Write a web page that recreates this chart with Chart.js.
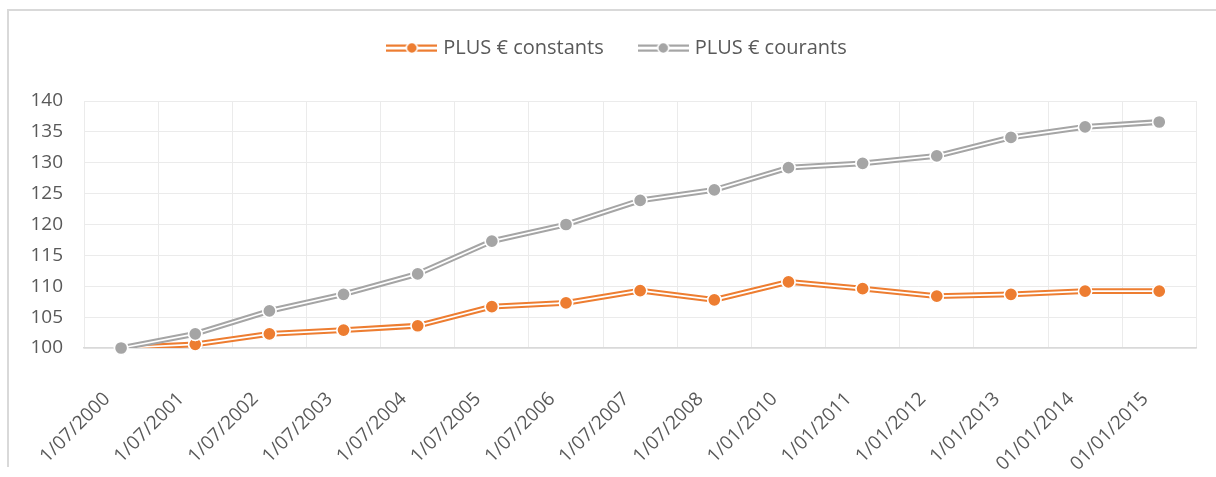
<!DOCTYPE html>
<html>
<head>
<meta charset="utf-8">
<script src="https://cdn.jsdelivr.net/npm/chart.js@4.4.1/dist/chart.umd.min.js"></script>
<style>
  html, body { margin: 0; padding: 0; background: #ffffff; }
  #wrap { position: relative; width: 1216px; height: 477px; overflow: hidden; }
  #frame { position: absolute; left: 7px; top: 9px; width: 1230px; height: 458px;
           border-top: 2px solid #d9d9d9; border-left: 2px solid #d9d9d9; box-sizing: border-box; }
  #c { position: absolute; left: 0; top: 0; }
</style>
</head>
<body>
<div id="wrap">
  <div id="frame"></div>
  <canvas id="c" width="1216" height="477"></canvas>
</div>
<script>
const categories = ["1/07/2000","1/07/2001","1/07/2002","1/07/2003","1/07/2004","1/07/2005","1/07/2006","1/07/2007","1/07/2008","1/01/2010","1/01/2011","1/01/2012","1/01/2013","01/01/2014","01/01/2015"];
const plusConstants = [100.0, 100.6, 102.3, 102.9, 103.6, 106.7, 107.3, 109.3, 107.8, 110.7, 109.6, 108.4, 108.7, 109.2, 109.2];
const plusCourants  = [100.0, 102.3, 106.0, 108.7, 112.0, 117.3, 120.0, 123.9, 125.6, 129.2, 129.9, 131.1, 134.1, 135.8, 136.6];
const seriesNames = ["PLUS € constants", "PLUS € courants"];
const yTicks = [100, 105, 110, 115, 120, 125, 130, 135, 140];

const ORANGE = "#ED7D31";
const GREY = "#A5A5A5";
const TEXT = "#595959";
const FONT = "'Open Sans', sans-serif";

function legendIcon(color) {
  const cv = document.createElement("canvas");
  cv.width = 51; cv.height = 14;
  const g = cv.getContext("2d");
  g.fillStyle = color;
  g.fillRect(0, 3.5, 51, 2.2);
  g.fillRect(0, 8.5, 51, 2.2);
  g.beginPath();
  g.arc(25.5, 7, 5.5, 0, Math.PI * 2);
  g.fillStyle = color;
  g.fill();
  g.lineWidth = 1.5;
  g.strokeStyle = "#ffffff";
  g.stroke();
  return cv;
}
const icons = [legendIcon(ORANGE), legendIcon(GREY)];

const doubleLine = {
  id: "doubleLine",
  afterDatasetDraw(chart, args) {
    const meta = args.meta;
    const pts = meta.data;
    if (!pts || !pts.length) return;
    const ctx = chart.ctx;
    ctx.save();
    ctx.beginPath();
    ctx.lineJoin = "round";
    pts.forEach((p, i) => { if (i === 0) ctx.moveTo(p.x, p.y); else ctx.lineTo(p.x, p.y); });
    ctx.lineWidth = 1.7;
    ctx.strokeStyle = "#ffffff";
    ctx.stroke();
    ctx.restore();
    pts.forEach(p => p.draw(ctx, chart.chartArea));
  }
};

const legendSpace = {
  id: "legendSpace",
  beforeLayout(chart) {
    const lg = chart.legend;
    if (lg && !lg._patched) {
      const fit = lg.fit;
      lg.fit = function () { fit.call(this); this.height += 33; };
      lg._patched = true;
    }
  },
  afterLayout(chart) {
    const lg = chart.legend;
    if (lg) { lg.left += 10; lg.right += 10; }
  }
};

new Chart(document.getElementById("c"), {
  type: "line",
  data: {
    labels: categories,
    datasets: [
      { label: seriesNames[0], data: plusConstants, borderColor: ORANGE, backgroundColor: ORANGE,
        borderWidth: 5.8, pointRadius: 6.6, pointBorderWidth: 1.5, pointBorderColor: "#ffffff",
        pointBackgroundColor: ORANGE, tension: 0, order: 2, borderJoinStyle: "round" },
      { label: seriesNames[1], data: plusCourants, borderColor: GREY, backgroundColor: GREY,
        borderWidth: 5.8, pointRadius: 6.6, pointBorderWidth: 1.5, pointBorderColor: "#ffffff",
        pointBackgroundColor: GREY, tension: 0, order: 1, borderJoinStyle: "round" }
    ]
  },
  options: {
    responsive: false,
    animation: false,
    layout: { padding: { left: 20, right: 19, top: 0, bottom: 0 } },
    plugins: {
      tooltip: { enabled: false },
      legend: {
        position: "top",
        labels: {
          usePointStyle: true,
          pointStyleWidth: 43,
          padding: 38,
          color: TEXT,
          font: { family: FONT, size: 20 },
          generateLabels(chart) {
            return chart.data.datasets.map((ds, i) => ({
              text: ds.label, datasetIndex: i, pointStyle: icons[i],
              fillStyle: ds.borderColor, strokeStyle: ds.borderColor, lineWidth: 0,
              fontColor: TEXT, hidden: false
            }));
          }
        }
      }
    },
    scales: {
      x: {
        offset: true,
        grid: { offset: true, color: "#ebebeb", lineWidth: 1, drawTicks: false },
        border: { color: "#d9d9d9", width: 1.5 },
        ticks: { color: TEXT, font: { family: FONT, size: 19 }, minRotation: 45, maxRotation: 45, padding: 40, labelOffset: -14, autoSkip: false },
        afterFit(s) { s.height = 129; }
      },
      y: {
        min: 100, max: 140,
        afterBuildTicks(s) { s.ticks = yTicks.map(v => ({ value: v })); },
        grid: { color: "#ebebeb", lineWidth: 1, drawTicks: false },
        border: { display: false },
        ticks: { color: TEXT, font: { family: FONT, size: 19 }, padding: 21 },
        afterFit(s) { s.width = 64; }
      }
    }
  },
  plugins: [doubleLine, legendSpace]
});
</script>
</body>
</html>
